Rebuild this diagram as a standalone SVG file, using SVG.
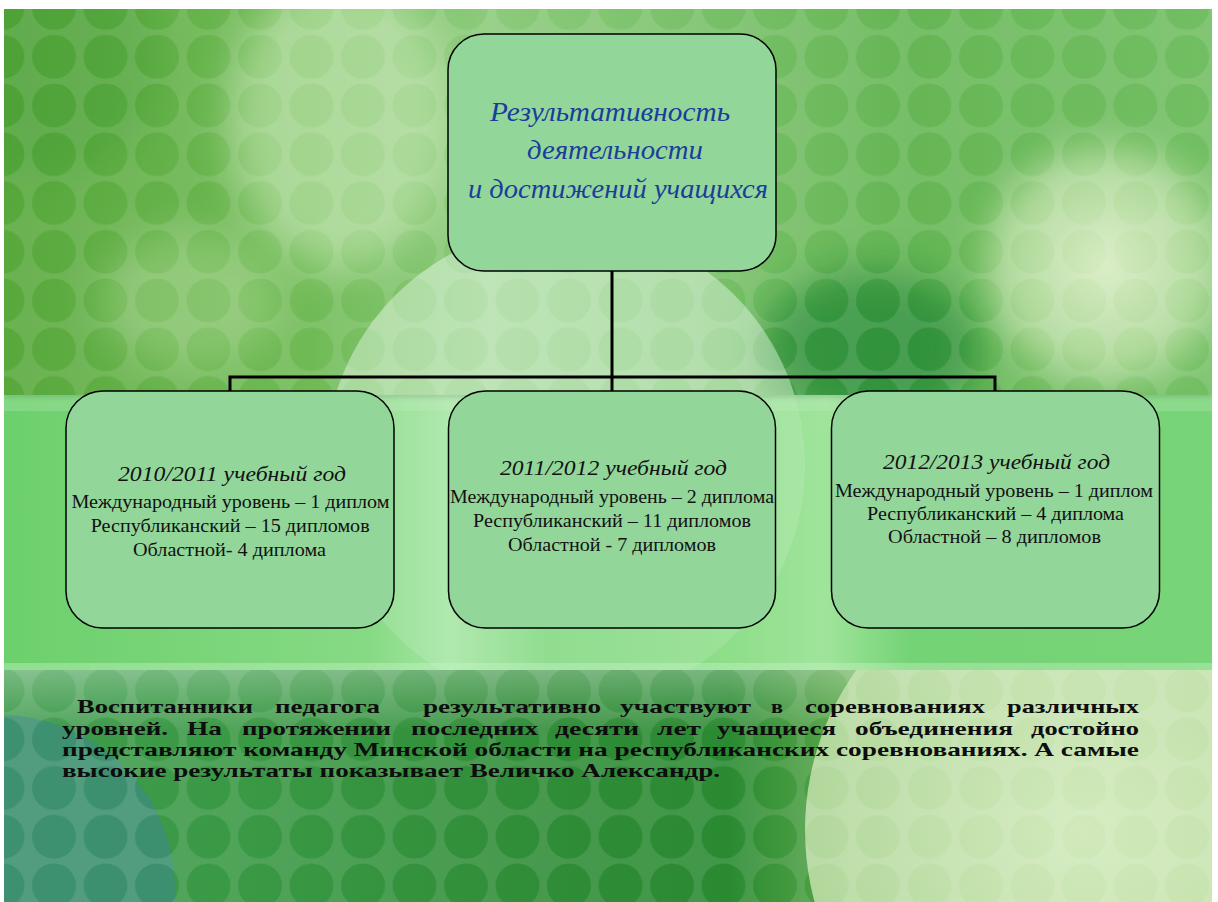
<svg xmlns="http://www.w3.org/2000/svg" width="1218" height="902" viewBox="0 0 1218 902">
<defs>
<style>
.box{fill:#93d69a;stroke:#000;stroke-width:1.5}
.conn{stroke:#000;stroke-width:3;fill:none}
.title{font-family:"Liberation Serif","DejaVu Serif",serif;font-style:italic;font-size:28px;fill:#1b3d9a}
.year{font-family:"Liberation Serif","DejaVu Serif",serif;font-style:italic;font-size:21px;fill:#111}
.line{font-family:"Liberation Serif","DejaVu Serif",serif;font-size:18px;fill:#111}
.para{font-family:"Liberation Serif","DejaVu Serif",serif;font-weight:bold;font-size:19px;fill:#0d0d0d}
</style>
<clipPath id="topBand"><rect x="4" y="9" width="1208" height="386"/></clipPath>
<clipPath id="midBand"><rect x="4" y="395" width="1208" height="275"/></clipPath>
<clipPath id="botBand"><rect x="4" y="670" width="1208" height="232"/></clipPath>
<filter id="blur20" x="-50%" y="-50%" width="200%" height="200%"><feGaussianBlur stdDeviation="20"/></filter>
<filter id="blur12" x="-30%" y="-30%" width="160%" height="160%"><feGaussianBlur stdDeviation="12"/></filter>
<filter id="blur3" x="-10%" y="-200%" width="120%" height="500%"><feGaussianBlur stdDeviation="3"/></filter>
<pattern id="dots" patternUnits="userSpaceOnUse" x="28.25" y="32.3" width="51.5" height="48.75">
<path d="M0 0H51.5V48.75H0Z M3.75 24.375a22 22 0 1 0 44 0a22 22 0 1 0 -44 0Z" fill="#fff" fill-opacity="0.11" fill-rule="evenodd"/>
</pattern>
<linearGradient id="topGrad" x1="0" y1="0" x2="1" y2="0">
<stop offset="0" stop-color="#58a83c"/><stop offset="0.25" stop-color="#6fba55"/><stop offset="0.4" stop-color="#8ccb7c"/><stop offset="0.55" stop-color="#7cc26c"/><stop offset="0.75" stop-color="#66b655"/><stop offset="1" stop-color="#72bf63"/>
</linearGradient>
<linearGradient id="midGrad" x1="0" y1="0" x2="1" y2="0">
<stop offset="0" stop-color="#6cd06c"/><stop offset="0.3" stop-color="#86da84"/><stop offset="0.37" stop-color="#a5e6a2"/><stop offset="0.45" stop-color="#80d880"/><stop offset="0.6" stop-color="#8ede8a"/><stop offset="0.68" stop-color="#a0e49c"/><stop offset="0.75" stop-color="#74d374"/><stop offset="1" stop-color="#78d478"/>
</linearGradient>
<linearGradient id="botGrad" x1="0" y1="0" x2="1" y2="0">
<stop offset="0" stop-color="#3e9b4c"/><stop offset="0.2" stop-color="#3a9945"/><stop offset="0.45" stop-color="#2f8c37"/><stop offset="0.6" stop-color="#2a8a32"/><stop offset="0.7" stop-color="#5aa84a"/><stop offset="1" stop-color="#9fcf80"/>
</linearGradient>
<linearGradient id="fadeDown" x1="0" y1="0" x2="0" y2="1">
<stop offset="0" stop-color="#fff" stop-opacity="0.3"/><stop offset="1" stop-color="#fff" stop-opacity="0"/>
</linearGradient>
<radialGradient id="paleR" cx="0.5" cy="0.5" r="0.5">
<stop offset="0" stop-color="#dcefc6"/><stop offset="1" stop-color="#bfdfa8"/>
</radialGradient>
<radialGradient id="bokeh" cx="0.5" cy="0.5" r="0.5">
<stop offset="0" stop-color="#eef6d8" stop-opacity="0.85"/><stop offset="0.7" stop-color="#d8ecc0" stop-opacity="0.6"/><stop offset="1" stop-color="#c8e4b0" stop-opacity="0"/>
</radialGradient>
</defs>

<rect x="0" y="0" width="1218" height="902" fill="#fff"/>

<g id="background">
<g clip-path="url(#topBand)">
<rect x="4" y="9" width="1208" height="386" fill="url(#topGrad)"/>
<ellipse cx="40" cy="60" rx="120" ry="120" fill="#3f9a30" opacity="0.4" filter="url(#blur20)"/>
<ellipse cx="340" cy="120" rx="110" ry="150" fill="#d8f0c8" opacity="0.5" filter="url(#blur20)"/>
<ellipse cx="190" cy="300" rx="90" ry="70" fill="#cfeab8" opacity="0.3" filter="url(#blur20)"/>
<ellipse cx="870" cy="350" rx="110" ry="80" fill="#1f8430" opacity="0.7" filter="url(#blur20)"/>
<circle cx="1105" cy="265" r="140" fill="url(#bokeh)" filter="url(#blur12)"/>
<circle cx="565" cy="465" r="240" fill="#f0fff4" opacity="0.42"/>
<rect x="4" y="9" width="1208" height="386" fill="url(#dots)"/>
</g>
<g clip-path="url(#midBand)">
<rect x="4" y="395" width="1208" height="275" fill="url(#midGrad)"/>
<circle cx="565" cy="465" r="240" fill="#fff" opacity="0.13"/>
<rect x="4" y="395" width="1208" height="16" fill="#c8f0c8" opacity="0.25"/>
<rect x="4" y="391" width="1208" height="5" fill="#334" opacity="0.25" filter="url(#blur3)"/>
<rect x="4" y="663" width="1208" height="7" fill="#c8f5c8" opacity="0.4"/>
</g>
<g clip-path="url(#botBand)">
<rect x="4" y="670" width="1208" height="232" fill="url(#botGrad)"/>
<rect x="4" y="670" width="1208" height="60" fill="url(#fadeDown)"/>
<circle cx="0" cy="890" r="175" fill="#3d8f72" opacity="0.95"/>
<circle cx="1080" cy="830" r="275" fill="url(#paleR)" opacity="0.88"/>
<rect x="4" y="670" width="1208" height="232" fill="url(#dots)"/>
</g>
</g>

<g id="connectors">
<path class="conn" d="M612,271 V377 M230,391 V377 H995 V391 M612,377 V391"/>
</g>

<g id="node-root">
<rect class="box" x="448" y="34" width="328" height="237" rx="36"/>
<text class="title" x="490" y="121" textLength="240" lengthAdjust="spacingAndGlyphs">Результативность</text>
<text class="title" x="527" y="159" textLength="176" lengthAdjust="spacingAndGlyphs">деятельности</text>
<text class="title" x="468" y="198" textLength="300" lengthAdjust="spacingAndGlyphs">и достижений учащихся</text>
</g>

<g id="node-2010">
<rect class="box" x="66" y="391" width="328" height="237" rx="37"/>
<text class="year" x="118" y="481" textLength="228" lengthAdjust="spacingAndGlyphs">2010/2011 учебный год</text>
<text class="line" x="71.5" y="508" textLength="318" lengthAdjust="spacingAndGlyphs">Международный уровень – 1 диплом</text>
<text class="line" x="90.7" y="532" textLength="279" lengthAdjust="spacingAndGlyphs">Республиканский – 15 дипломов</text>
<text class="line" x="133" y="556" textLength="193" lengthAdjust="spacingAndGlyphs">Областной- 4 диплома</text>
</g>

<g id="node-2011">
<rect class="box" x="448.5" y="391" width="327" height="237" rx="37"/>
<text class="year" x="500" y="475" textLength="227" lengthAdjust="spacingAndGlyphs">2011/2012 учебный год</text>
<text class="line" x="450" y="503" textLength="324" lengthAdjust="spacingAndGlyphs">Международный уровень – 2 диплома</text>
<text class="line" x="473" y="527" textLength="278" lengthAdjust="spacingAndGlyphs">Республиканский – 11 дипломов</text>
<text class="line" x="508" y="551" textLength="208" lengthAdjust="spacingAndGlyphs">Областной - 7 дипломов</text>
</g>

<g id="node-2012">
<rect class="box" x="831.5" y="391" width="328" height="237" rx="37"/>
<text class="year" x="883" y="469" textLength="227" lengthAdjust="spacingAndGlyphs">2012/2013 учебный год</text>
<text class="line" x="835" y="497" textLength="318" lengthAdjust="spacingAndGlyphs">Международный уровень – 1 диплом</text>
<text class="line" x="867" y="520" textLength="257" lengthAdjust="spacingAndGlyphs">Республиканский – 4 диплома</text>
<text class="line" x="888" y="543" textLength="213" lengthAdjust="spacingAndGlyphs">Областной – 8 дипломов</text>
</g>

<g id="caption">
<text class="para" x="77" y="713" textLength="176" lengthAdjust="spacingAndGlyphs">Воспитанники</text>
<text class="para" x="275" y="713" textLength="105" lengthAdjust="spacingAndGlyphs">педагога</text>
<text class="para" x="423" y="713" textLength="178" lengthAdjust="spacingAndGlyphs">результативно</text>
<text class="para" x="620" y="713" textLength="131" lengthAdjust="spacingAndGlyphs">участвуют</text>
<text class="para" x="771" y="713" textLength="12" lengthAdjust="spacingAndGlyphs">в</text>
<text class="para" x="805" y="713" textLength="180" lengthAdjust="spacingAndGlyphs">соревнованиях</text>
<text class="para" x="1007" y="713" textLength="132" lengthAdjust="spacingAndGlyphs">различных</text>
<text class="para" x="62" y="735" textLength="106" lengthAdjust="spacingAndGlyphs">уровней.</text>
<text class="para" x="187" y="735" textLength="35" lengthAdjust="spacingAndGlyphs">На</text>
<text class="para" x="242" y="735" textLength="149" lengthAdjust="spacingAndGlyphs">протяжении</text>
<text class="para" x="411" y="735" textLength="127" lengthAdjust="spacingAndGlyphs">последних</text>
<text class="para" x="555" y="735" textLength="84" lengthAdjust="spacingAndGlyphs">десяти</text>
<text class="para" x="657" y="735" textLength="44" lengthAdjust="spacingAndGlyphs">лет</text>
<text class="para" x="717" y="735" textLength="119" lengthAdjust="spacingAndGlyphs">учащиеся</text>
<text class="para" x="855" y="735" textLength="158" lengthAdjust="spacingAndGlyphs">объединения</text>
<text class="para" x="1031" y="735" textLength="108" lengthAdjust="spacingAndGlyphs">достойно</text>
<text class="para" x="62" y="756" textLength="1077" lengthAdjust="spacingAndGlyphs">представляют команду Минской области на республиканских соревнованиях. А самые</text>
<text class="para" x="62" y="777" textLength="658" lengthAdjust="spacingAndGlyphs">высокие результаты показывает Величко Александр.</text>
</g>
</svg>
